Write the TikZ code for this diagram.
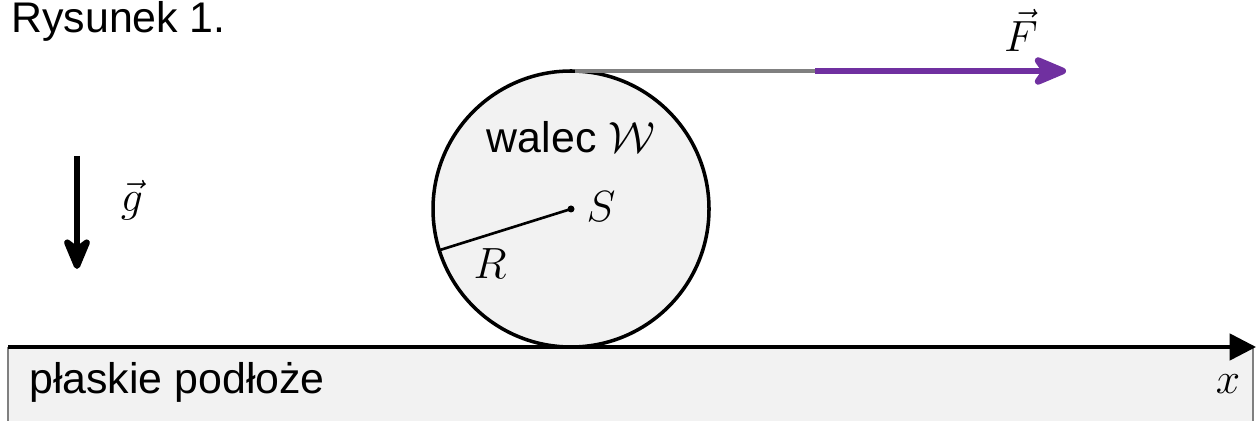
\documentclass[tikz,border=0pt]{standalone}
\usepackage{fontspec}
\setmainfont{Liberation Sans}
\usepackage{xcolor}
\usetikzlibrary{arrows.meta, positioning}
\definecolor{groundgrey}{RGB}{242, 242, 242}
\definecolor{ropegrey}{RGB}{128, 128, 128}
\definecolor{forcepurple}{RGB}{112, 48, 160}

\begin{document}
\begin{tikzpicture}[
    x=0.02cm, y=-0.02cm,
    every node/.style={font=\fontsize{24.4}{29}\selectfont, inner sep=0pt},
    label/.style={font=\fontsize{28}{33}\selectfont},
    body/.style={draw=black, fill=groundgrey, line width=2pt},
    vec/.style={-{Stealth[length=23pt, width=19pt, inset=7pt, round]}, line width=3.6pt},
    force/.style={-{Stealth[length=24pt, width=20pt, inset=7pt, round]}, line width=3.8pt, forcepurple},
    axis/.style={-{Triangle[length=15pt, width=15pt]}, line width=2pt}
]
\useasboundingbox (0,0) rectangle (1256,421);

% Title
\node[anchor=base west] (title) at (11,33) {Rysunek 1.};

% Ground
\fill[groundgrey] (8,347) rectangle (1253,421);
\draw[ropegrey, line width=1pt] (8,347) -- (8,421);
\draw[ropegrey, line width=1pt] (1253,347) -- (1253,421);
\coordinate (x0) at (8,347);
\coordinate (x1) at (1256,347);
\draw[axis] (x0) -- (x1);
\node[anchor=base west] (ground) at (29,394) {płaskie podłoże};
\node[label, anchor=base] (xlab) at (1228,394) {$x$};

% Cylinder
\coordinate (S) at (571,209);
\draw[body] (S) circle (138);
\coordinate (rim) at (440,250);
\draw[line width=1.5pt] (S) -- (rim);
\fill (S) circle (3.5);
\node[label] (Slab) at (601,207) {$S$};
\node[label] (Rlab) at (490,264) {$R$};
\node (name) at (571,137) {walec $\mathcal{W}$};

% Rope and force
\coordinate (top) at (575,71);
\coordinate (pull) at (815,71);
\coordinate (tip) at (1066,71);
\draw[ropegrey, line width=2pt] (top) -- (pull);
\draw[force] (pull) -- (tip);
\node[label] (Flab) at (1021,30) {$\vec{F}$};

% Gravity
\coordinate (g0) at (77,156);
\coordinate (g1) at (77,269);
\draw[vec] (g0) -- (g1);
\node[label] (glab) at (132,200) {$\vec{g}$};

\end{tikzpicture}
\end{document}
